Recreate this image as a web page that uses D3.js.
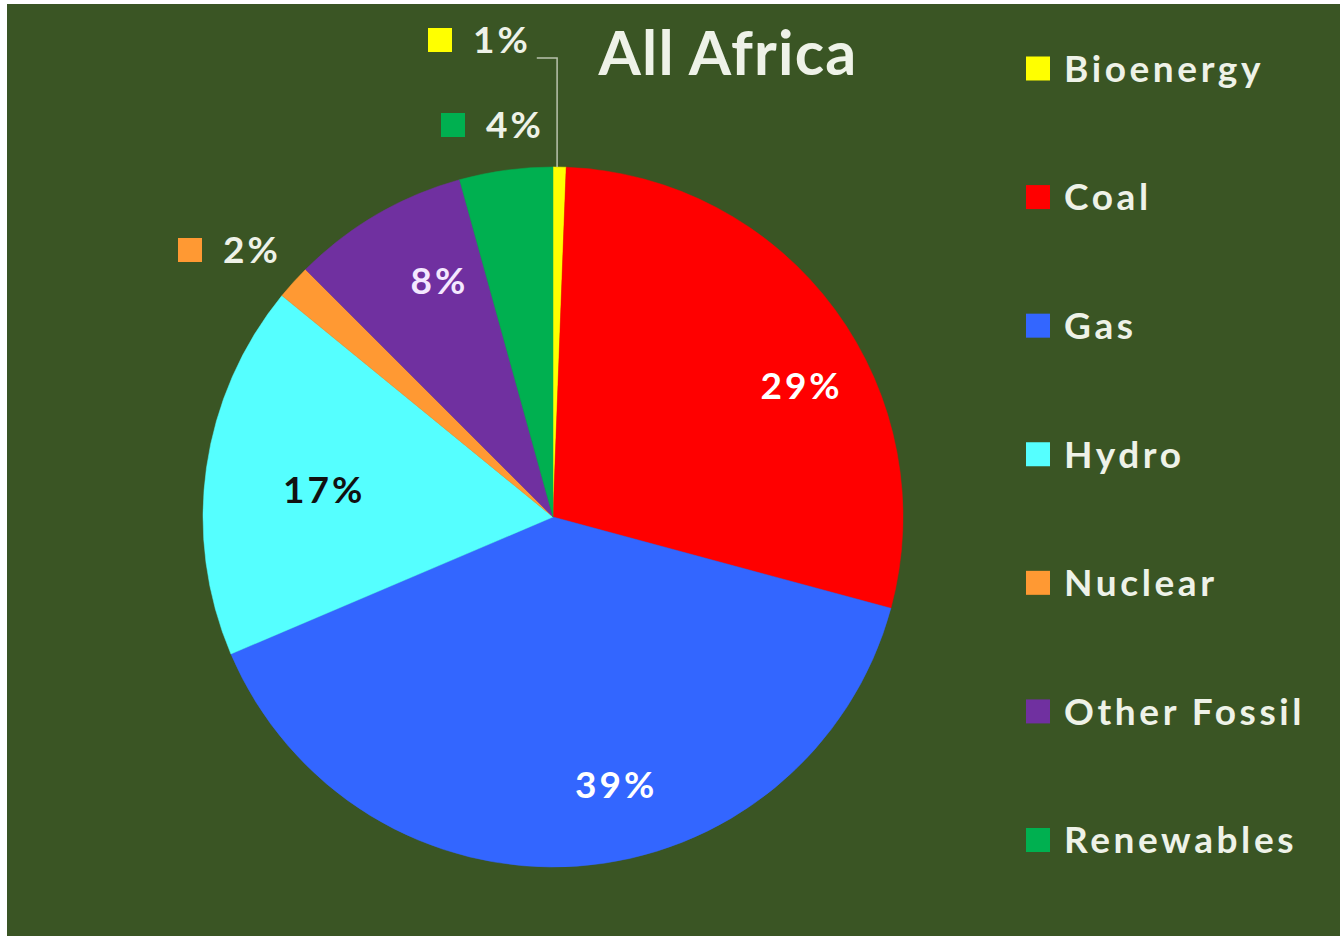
<!DOCTYPE html>
<html>
<head>
<meta charset="utf-8">
<script src="https://cdn.jsdelivr.net/npm/d3@7"></script>
<style>
  html, body { margin: 0; padding: 0; background: #ffffff; }
  svg { display: block; }
  text { font-family: Lato, "Open Sans", sans-serif; font-weight: 700; }
</style>
</head>
<body>
<svg id="chart" width="1340" height="937"></svg>
<script>
// Electricity generation mix, share of total (%)
const categories = ["Bioenergy", "Coal", "Gas", "Hydro", "Nuclear", "Other Fossil", "Renewables"];
const shares = [0.6, 28.6, 39.4, 17.3, 1.6, 8.2, 4.3];
const sliceColors = ["#ffff00", "#ff0000", "#3366ff", "#55ffff", "#ff9933", "#7030a0", "#00b050"];
const labelColors = ["#eef2e8", "#ffffff", "#ffffff", "#111111", "#eef2e8", "#f4e8ff", "#eef2e8"];
const chartTitle = "All Africa";

const W = 1340, H = 937;
const bg = "#3a5524";
const textLight = "#eef2e8";

const svg = d3.select("#chart");

// plot area (thin white margin on the left and top)
svg.append("rect")
  .attr("x", 7).attr("y", 4)
  .attr("width", W - 7).attr("height", H - 5)
  .attr("fill", bg);

const cx = 553, cy = 517, R = 350;

const data = categories.map((c, i) => ({ name: c, value: shares[i], color: sliceColors[i], labelColor: labelColors[i] }));

const pie = d3.pie().sort(null).value(d => d.value);
const arcs = pie(data);
const arc = d3.arc().innerRadius(0).outerRadius(R);

const g = svg.append("g").attr("transform", `translate(${cx},${cy})`);

g.selectAll("path.slice")
  .data(arcs)
  .join("path")
  .attr("class", "slice")
  .attr("d", arc)
  .attr("fill", d => d.data.color)
  .attr("stroke", d => d.data.color)
  .attr("stroke-width", 0.5);

const pct = v => Math.round(v) + "%";
const fs = 37;
const spacing = 3;

// labels drawn inside their slices: shift of angle (deg) from the slice middle, radius
const inside = {
  "Coal": [8.3, 280],
  "Gas": [-9, 275],
  "Hydro": [-1.3, 232],
  "Other Fossil": [4.3, 263]
};

arcs.filter(a => inside[a.data.name]).forEach(a => {
  const [shift, rr] = inside[a.data.name];
  const ang = (a.startAngle + a.endAngle) / 2 + shift * Math.PI / 180;
  const x = rr * Math.sin(ang), y = -rr * Math.cos(ang);
  g.append("text")
    .attr("x", x + spacing / 2).attr("y", y + 0.36 * fs)
    .attr("text-anchor", "middle")
    .attr("font-size", fs)
    .attr("letter-spacing", spacing)
    .attr("fill", a.data.labelColor)
    .text(pct(a.data.value));
});

// labels placed outside the pie, each with its colour key (offset of key centre from pie centre)
const outside = {
  "Bioenergy": [-113, -477],
  "Renewables": [-100, -392],
  "Nuclear": [-363, -267]
};
const keySize = 24;

arcs.filter(a => outside[a.data.name]).forEach(a => {
  const [ox, oy] = outside[a.data.name];
  g.append("rect")
    .attr("x", ox - keySize / 2).attr("y", oy - keySize / 2)
    .attr("width", keySize).attr("height", keySize)
    .attr("fill", a.data.color);
  const t = g.append("text")
    .attr("x", ox + keySize / 2 + 21).attr("y", oy + 0.36 * fs)
    .attr("font-size", fs)
    .attr("letter-spacing", spacing)
    .attr("fill", textLight)
    .text(pct(a.data.value));
  if (a.data.name === "Bioenergy") {
    // leader line from label to the slice edge
    const mid = (a.startAngle + a.endAngle) / 2;
    const ex = R * Math.sin(mid) - 2.5, ey = -R * Math.cos(mid);
    const tb = t.node().getBBox();
    g.append("path")
      .attr("d", `M${tb.x + tb.width + 6},${oy + 18}H${ex}V${ey}`)
      .attr("fill", "none")
      .attr("stroke", "#b9c2ad")
      .attr("stroke-width", 1.5);
  }
});

// title
svg.append("text")
  .attr("x", 728).attr("y", 75)
  .attr("text-anchor", "middle")
  .attr("font-size", 61)
  .attr("letter-spacing", 1.2)
  .attr("fill", textLight)
  .text(chartTitle);

// legend
const legend = svg.append("g");
const legY = d3.scalePoint().domain(categories).range([68.5, 840]);
categories.forEach((c, i) => {
  const y = legY(c);
  legend.append("rect")
    .attr("x", 1038 - keySize / 2).attr("y", y - keySize / 2)
    .attr("width", keySize).attr("height", keySize)
    .attr("fill", sliceColors[i]);
  legend.append("text")
    .attr("x", 1064).attr("y", y + 0.36 * fs)
    .attr("font-size", fs)
    .attr("letter-spacing", 3.6)
    .attr("fill", textLight)
    .text(c);
});
</script>
</body>
</html>
